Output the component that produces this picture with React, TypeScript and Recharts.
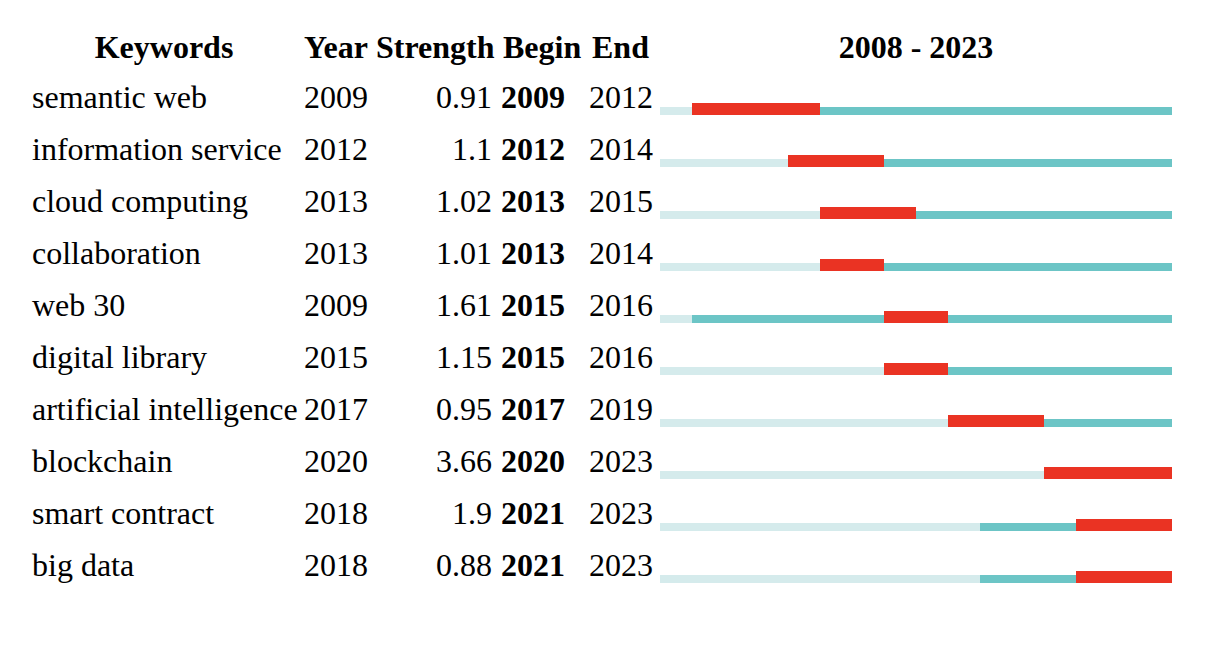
import { BarChart, Bar, XAxis, YAxis } from "recharts";

const keywords = [
  "semantic web",
  "information service",
  "cloud computing",
  "collaboration",
  "web 30",
  "digital library",
  "artificial intelligence",
  "blockchain",
  "smart contract",
  "big data",
];
const years = [2009, 2012, 2013, 2013, 2009, 2015, 2017, 2020, 2018, 2018];
const strengths = [0.91, 1.1, 1.02, 1.01, 1.61, 1.15, 0.95, 3.66, 1.9, 0.88];
const begins = [2009, 2012, 2013, 2013, 2015, 2015, 2017, 2020, 2021, 2021];
const ends = [2012, 2014, 2015, 2014, 2016, 2016, 2019, 2023, 2023, 2023];

const FIRST_YEAR = 2008;
const LAST_YEAR = 2023;

const RED = "#EA3323";
const TEAL = "#6CC5C6";
const LIGHT = "#D5EBEC";
const FONT = "'Liberation Serif', 'Times New Roman', Times, serif";

const data = keywords.map((name, i) => ({
  name,
  light: years[i] - FIRST_YEAR,
  pre: begins[i] - years[i],
  burst: ends[i] + 1 - begins[i],
  post: LAST_YEAR + 1 - (ends[i] + 1),
}));

// thin segment, bottom-aligned with the thicker red burst
const ThinBar = (props: any) => {
  const { x, y, width, height, fill } = props;
  if (!width || width <= 0) return null;
  return <rect x={x} y={y + height - 8} width={width} height={8} fill={fill} />;
};

const RowTick = (props: any) => {
  const { y, index } = props;
  const by = y - 1;
  return (
    <g fontFamily={FONT} fontSize={32} fill="#000">
      <text x={24} y={by}>{keywords[index]}</text>
      <text x={296} y={by}>{years[index]}</text>
      <text x={484} y={by} textAnchor="end">{String(strengths[index])}</text>
      <text x={493} y={by} fontWeight="bold">{begins[index]}</text>
      <text x={581} y={by}>{ends[index]}</text>
    </g>
  );
};

const headerStyle: React.CSSProperties = {
  position: "absolute",
  top: 23,
  fontFamily: FONT,
  fontSize: 32,
  lineHeight: "32px",
  fontWeight: "bold",
  whiteSpace: "nowrap",
};

export default function App() {
  return (
    <div style={{ position: "relative", width: 1200, height: 630 }}>
      <span style={{ ...headerStyle, left: 156, transform: "translateX(-50%)" }}>Keywords</span>
      <span style={{ ...headerStyle, left: 296 }}>Year</span>
      <span style={{ ...headerStyle, left: 368 }}>Strength</span>
      <span style={{ ...headerStyle, left: 495 }}>Begin</span>
      <span style={{ ...headerStyle, left: 584 }}>End</span>
      <span style={{ ...headerStyle, left: 908, transform: "translateX(-50%)" }}>
        {FIRST_YEAR} - {LAST_YEAR}
      </span>
      <BarChart
        width={1200}
        height={630}
        data={data}
        layout="vertical"
        barSize={12}
        margin={{ top: 75, right: 36, bottom: 35, left: 0 }}
      >
        <XAxis type="number" domain={[0, LAST_YEAR + 1 - FIRST_YEAR]} hide />
        <YAxis
          type="category"
          dataKey="name"
          width={652}
          axisLine={false}
          tickLine={false}
          interval={0}
          tick={<RowTick />}
        />
        <Bar dataKey="light" stackId="a" fill={LIGHT} shape={<ThinBar />} isAnimationActive={false} />
        <Bar dataKey="pre" stackId="a" fill={TEAL} shape={<ThinBar />} isAnimationActive={false} />
        <Bar dataKey="burst" stackId="a" fill={RED} isAnimationActive={false} />
        <Bar dataKey="post" stackId="a" fill={TEAL} shape={<ThinBar />} isAnimationActive={false} />
      </BarChart>
    </div>
  );
}
